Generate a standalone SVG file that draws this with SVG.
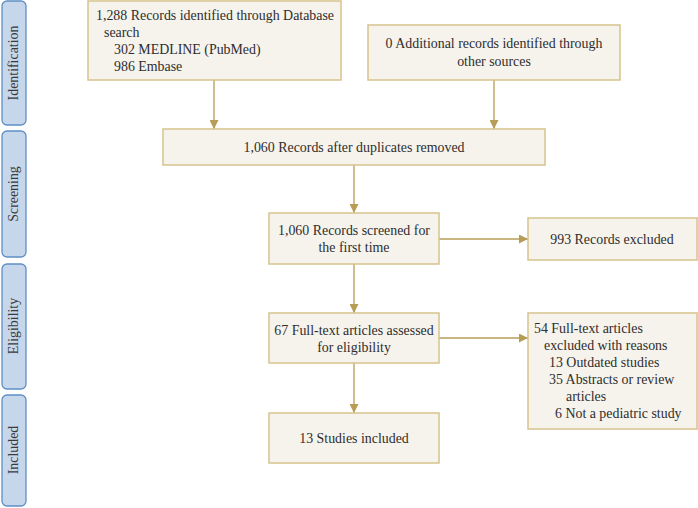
<svg xmlns="http://www.w3.org/2000/svg" width="698" height="508" viewBox="0 0 698 508">
<style>
.box{fill:#f6f3ec;stroke:#d6c38c;stroke-width:1.5}
.side{fill:#c6d7ec;stroke:#5f8fc4;stroke-width:1.3}
.t{font-family:"Liberation Serif","Times New Roman",serif;font-size:13.9px;fill:#2e2e2e}
.c{text-anchor:middle}
.s{font-family:"Liberation Serif","Times New Roman",serif;font-size:13.9px;fill:#3a3a3a;text-anchor:middle}
.e{stroke:#b69c55;stroke-width:1.3;fill:none;marker-end:url(#ah)}
</style>
<defs>
<marker id="ah" viewBox="0 0 10 10" refX="10" refY="5" markerWidth="10" markerHeight="9" markerUnits="userSpaceOnUse" orient="auto">
<path d="M0,0 L10,5 L0,10 z" fill="#b69c55"/>
</marker>
</defs>
<g id="stages">
<g id="stage-identification"><rect class="side" x="2" y="1" width="24" height="124" rx="5"/><text class="s" transform="translate(18,63) rotate(-90)">Identification</text></g>
<g id="stage-screening"><rect class="side" x="2" y="131" width="24" height="126" rx="5"/><text class="s" transform="translate(18,194) rotate(-90)">Screening</text></g>
<g id="stage-eligibility"><rect class="side" x="2" y="264" width="24" height="125" rx="5"/><text class="s" transform="translate(18,326) rotate(-90)">Eligibility</text></g>
<g id="stage-included"><rect class="side" x="2" y="395" width="24" height="111" rx="5"/><text class="s" transform="translate(18,450) rotate(-90)">Included</text></g>
</g>
<g id="connectors">
<line class="e" x1="214" y1="80" x2="214" y2="129"/>
<line class="e" x1="494" y1="80" x2="494" y2="129"/>
<line class="e" x1="354" y1="165" x2="354" y2="213"/>
<line class="e" x1="439" y1="239" x2="528" y2="239"/>
<line class="e" x1="354" y1="264" x2="354" y2="313"/>
<line class="e" x1="439" y1="338" x2="528" y2="338"/>
<line class="e" x1="354" y1="363" x2="354" y2="413"/>
</g>
<g id="n1"><rect class="box" x="88" y="1" width="253" height="79"/>
<text class="t" x="96" y="20">1,288 Records identified through Database</text>
<text class="t" x="104" y="37">search</text>
<text class="t" x="114" y="54">302 MEDLINE (PubMed)</text>
<text class="t" x="114" y="71">986 Embase</text></g>
<g id="n2"><rect class="box" x="368" y="25" width="252" height="55"/>
<text class="t c" x="494" y="48">0 Additional records identified through</text>
<text class="t c" x="494" y="66">other sources</text></g>
<g id="n3"><rect class="box" x="163" y="129" width="382" height="36"/>
<text class="t c" x="354" y="152">1,060 Records after duplicates removed</text></g>
<g id="n4"><rect class="box" x="269" y="213" width="170" height="51"/>
<text class="t c" x="354" y="235">1,060 Records screened for</text>
<text class="t c" x="354" y="252">the first time</text></g>
<g id="n5"><rect class="box" x="528" y="218" width="169" height="42"/>
<text class="t c" x="612" y="244">993 Records excluded</text></g>
<g id="n6"><rect class="box" x="269" y="313" width="170" height="50"/>
<text class="t c" x="354" y="335">67 Full-text articles assessed</text>
<text class="t c" x="354" y="352">for eligibility</text></g>
<g id="n7"><rect class="box" x="269" y="413" width="170" height="50"/>
<text class="t c" x="354" y="443">13 Studies included</text></g>
<g id="n8"><rect class="box" x="528" y="313" width="169" height="116"/>
<text class="t" x="534" y="333">54 Full-text articles</text>
<text class="t" x="544" y="350">excluded with reasons</text>
<text class="t" x="549" y="367">13 Outdated studies</text>
<text class="t" x="549" y="384">35 Abstracts or review</text>
<text class="t" x="566" y="401">articles</text>
<text class="t" x="555" y="418">6 Not a pediatric study</text></g>
</svg>
